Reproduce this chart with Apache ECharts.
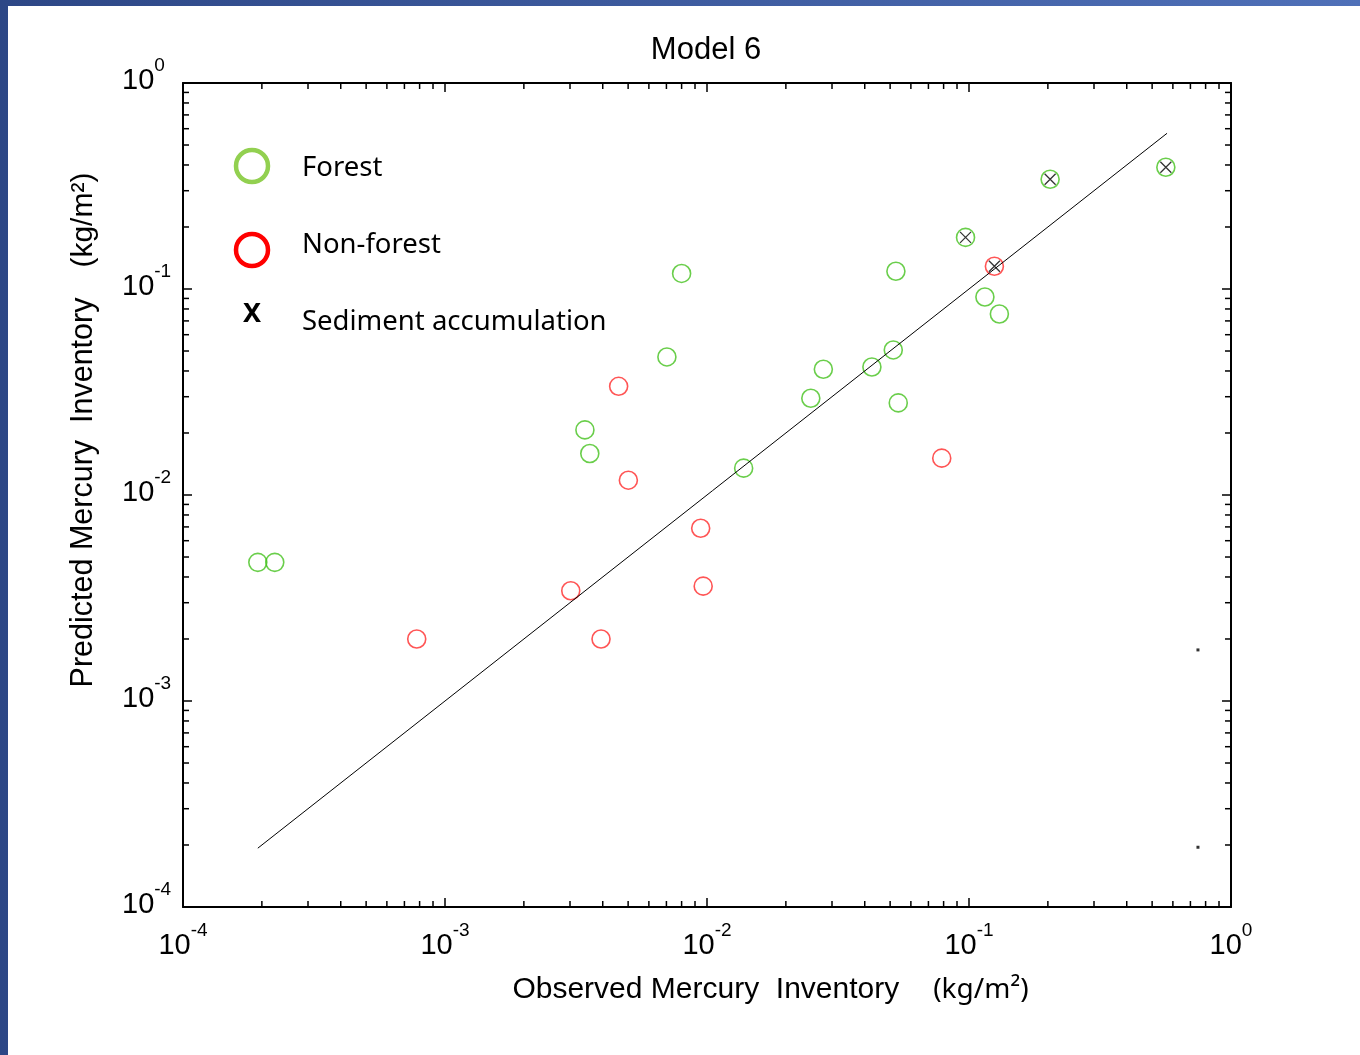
<!DOCTYPE html>
<html>
<head>
<meta charset="utf-8">
<script src="https://cdn.jsdelivr.net/npm/echarts@6/dist/echarts.min.js"></script>
<style>
  html, body { margin: 0; padding: 0; width: 1360px; height: 1055px; overflow: hidden;
    background: linear-gradient(to right, #2d4786, #4f70b8); }
  #panel { position: absolute; left: 8px; top: 6px; right: 0; bottom: 0; background: #fff; }
  #chart { position: absolute; left: 0; top: 0; width: 1360px; height: 1055px; }
</style>
</head>
<body>
<div id="panel"></div>
<div id="chart"></div>
<script>
// Observed vs predicted mercury inventory (kg/m²), Model 6
const forestObserved  = [1.93e-4, 2.24e-4, 3.42e-3, 3.57e-3, 7.03e-3, 8.0e-3, 1.38e-2, 2.49e-2, 2.78e-2,
                         4.26e-2, 5.14e-2, 5.37e-2, 5.26e-2, 9.70e-2, 0.115, 0.1306, 0.204, 0.564];
const forestPredicted = [4.71e-3, 4.71e-3, 2.07e-2, 1.59e-2, 4.68e-2, 0.119, 1.35e-2, 2.95e-2, 4.08e-2,
                         4.18e-2, 5.06e-2, 2.80e-2, 0.122, 0.178, 9.14e-2, 7.56e-2, 0.341, 0.390];

const nonForestObserved  = [7.80e-4, 3.02e-3, 3.94e-3, 4.60e-3, 5.01e-3, 9.46e-3, 9.67e-3, 7.87e-2, 0.125];
const nonForestPredicted = [2.00e-3, 3.43e-3, 2.00e-3, 3.37e-2, 1.18e-2, 6.90e-3, 3.61e-3, 1.51e-2, 0.129];

// sites with sediment accumulation (drawn as X on top of their circles)
const sedimentObserved  = [9.70e-2, 0.125, 0.204, 0.564];
const sedimentPredicted = [0.178, 0.129, 0.341, 0.390];

// 1:1 reference line endpoints
const oneToOneEnds = [1.93e-4, 0.57];

// two stray dots near the right edge
const strayObserved  = [0.748, 0.748];
const strayPredicted = [1.77e-3, 1.95e-4];

const axisMin = 1e-4, axisMax = 1;
const minorDecades = [-4, -3, -2, -1];
const minorMultipliers = [2, 3, 4, 5, 6, 7, 8, 9];

const pairs = (xs, ys) => xs.map((x, i) => [x, ys[i]]);
const minorValues = [];
minorDecades.forEach(e => minorMultipliers.forEach(m => minorValues.push(m * Math.pow(10, e))));

const GREEN = '#45c21e', RED = '#ff2b2b';
const ARIAL = '"Liberation Sans", Arial, sans-serif';
const BODY = '"Noto Sans", "Open Sans", sans-serif';

function powLabel(v) {
  const e = Math.round(Math.log10(v));
  return '{b|10}{s|' + e + '}';
}
// "10" sits at the bottom of a 40px line, the exponent at its top
const powRich = {
  b: { fontSize: 29, fontFamily: ARIAL, color: '#000', lineHeight: 40, height: 30, verticalAlign: 'bottom' },
  s: { fontSize: 19, fontFamily: ARIAL, color: '#000', lineHeight: 20, height: 20, verticalAlign: 'top' }
};

const tickLen = 6;
function xMinorTick(params, api) {
  const v = api.value(0);
  const b = api.coord([v, axisMin]);
  const t = api.coord([v, axisMax]);
  const st = { stroke: '#000', lineWidth: 1.5 };
  return { type: 'group', children: [
    { type: 'line', shape: { x1: b[0], y1: b[1], x2: b[0], y2: b[1] - tickLen }, style: st },
    { type: 'line', shape: { x1: t[0], y1: t[1], x2: t[0], y2: t[1] + tickLen }, style: st }
  ]};
}
function yMinorTick(params, api) {
  const v = api.value(1);
  const l = api.coord([axisMin, v]);
  const r = api.coord([axisMax, v]);
  const st = { stroke: '#000', lineWidth: 1.5 };
  return { type: 'group', children: [
    { type: 'line', shape: { x1: l[0], y1: l[1], x2: l[0] + tickLen, y2: l[1] }, style: st },
    { type: 'line', shape: { x1: r[0], y1: r[1], x2: r[0] - tickLen, y2: r[1] }, style: st }
  ]};
}

const axisBase = {
  type: 'log', logBase: 10, min: axisMin, max: axisMax,
  splitLine: { show: false },
  axisLine: { show: true, lineStyle: { color: '#000', width: 2 } },
  axisTick: { show: true, inside: true, length: 9, lineStyle: { color: '#000', width: 1.5 } }
};

const chart = echarts.init(document.getElementById('chart'), null, { renderer: 'canvas' });
chart.setOption({
  animation: false,
  backgroundColor: 'transparent',
  title: {
    text: 'Model 6', left: 701, top: 30, textAlign: 'center',
    textStyle: { fontFamily: ARIAL, fontSize: 31, fontWeight: 'normal', color: '#000' }
  },
  grid: { left: 183, top: 83, width: 1048, height: 824, containLabel: false },
  xAxis: [
    Object.assign({}, axisBase, {
      position: 'bottom',
      axisLabel: { formatter: powLabel, rich: powRich, margin: 14, showMinLabel: true, showMaxLabel: true },
      name: '{pad| }{a|Observed Mercury  Inventory}{g| }{k|(kg/m²)}',
      nameLocation: 'middle', nameGap: 68,
      nameTextStyle: { rich: {
        pad: { width: 127 },
        a: { fontFamily: ARIAL, fontSize: 30, color: '#000' },
        g: { width: 34 },
        k: { fontFamily: BODY, fontSize: 28, color: '#000' }
      } }
    }),
    Object.assign({}, axisBase, { position: 'top', axisLabel: { show: false } })
  ],
  yAxis: [
    Object.assign({}, axisBase, {
      position: 'left',
      axisLabel: { formatter: powLabel, rich: powRich, margin: 61, align: 'left', padding: [0, 0, 14, 0],
                   showMinLabel: true, showMaxLabel: true },
      name: '{pad| }{a|Predicted Mercury  Inventory}{g| }{k|(kg/m²)}',
      nameLocation: 'middle', nameGap: 84, nameRotate: 90,
      nameTextStyle: { rich: {
        pad: { width: 130 },
        a: { fontFamily: ARIAL, fontSize: 30.5, color: '#000' },
        g: { width: 30 },
        k: { fontFamily: ARIAL, fontSize: 30, color: '#000' }
      } }
    }),
    Object.assign({}, axisBase, { position: 'right', axisLabel: { show: false } })
  ],
  graphic: [
    { type: 'circle', shape: { cx: 252, cy: 166, r: 16 }, style: { fill: 'none', stroke: '#92d050', lineWidth: 4.5 } },
    { type: 'text', left: 302, top: 154, style: { text: 'Forest', font: '27.5px ' + BODY, fill: '#000' } },
    { type: 'circle', shape: { cx: 252, cy: 250, r: 16 }, style: { fill: 'none', stroke: '#ff0000', lineWidth: 4.5 } },
    { type: 'text', left: 302, top: 231, style: { text: 'Non-forest', font: '27.5px ' + BODY, fill: '#000' } },
    { type: 'text', left: 243, top: 301, style: { text: 'X', font: 'bold 27px ' + BODY, fill: '#000' } },
    { type: 'text', left: 302, top: 308, style: { text: 'Sediment accumulation', font: '27.5px ' + BODY, fill: '#000' } }
  ],
  series: [
    {
      name: '1:1', type: 'line', silent: true, symbol: 'none',
      data: oneToOneEnds.map(v => [v, v]),
      lineStyle: { color: '#000', width: 1 }
    },
    {
      name: 'Forest', type: 'scatter', silent: true,
      data: pairs(forestObserved, forestPredicted),
      symbol: 'circle', symbolSize: 18,
      itemStyle: { color: 'rgba(255,255,255,0)', borderColor: GREEN, borderWidth: 1.6 }
    },
    {
      name: 'Non-forest', type: 'scatter', silent: true,
      data: pairs(nonForestObserved, nonForestPredicted),
      symbol: 'circle', symbolSize: 18,
      itemStyle: { color: 'rgba(255,255,255,0)', borderColor: RED, borderWidth: 1.6 }
    },
    {
      name: 'Sediment accumulation', type: 'scatter', silent: true,
      data: pairs(sedimentObserved, sedimentPredicted),
      symbol: 'path://M0,0L10,10M10,0L0,10', symbolSize: 11,
      itemStyle: { color: 'transparent', borderColor: '#000', borderWidth: 1.3 }
    },
    {
      name: 'stray', type: 'scatter', silent: true,
      data: pairs(strayObserved, strayPredicted),
      symbol: 'rect', symbolSize: 3, itemStyle: { color: '#000' }
    },
    {
      name: 'x minor ticks', type: 'custom', silent: true, clip: false,
      data: minorValues.map(v => [v, axisMin]),
      renderItem: xMinorTick
    },
    {
      name: 'y minor ticks', type: 'custom', silent: true, clip: false,
      data: minorValues.map(v => [axisMin, v]),
      renderItem: yMinorTick
    }
  ]
});
</script>
</body>
</html>
